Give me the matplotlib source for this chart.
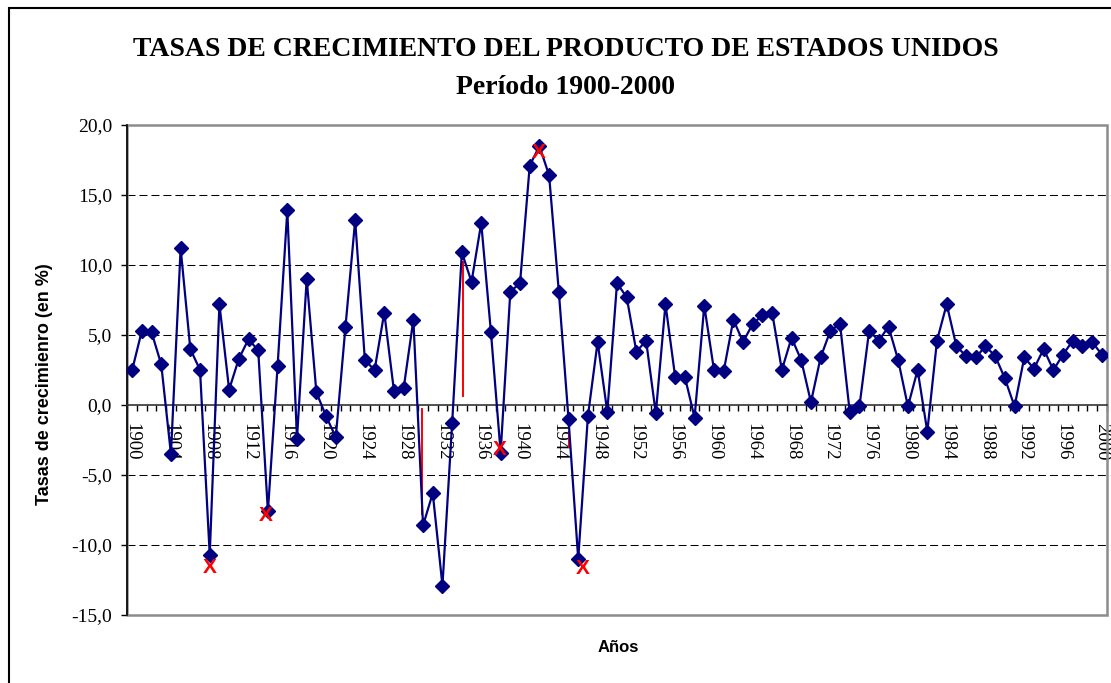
import matplotlib
matplotlib.use("Agg")
import matplotlib.pyplot as plt
from matplotlib.patches import Rectangle
import numpy as np

# Annual growth rates of US output, 1900-2000 (in %)
years = list(range(1900, 2001))
growth = [
    2.5, 5.3, 5.2, 2.9, -3.5, 11.2, 4.0, 2.5, -10.7, 7.2,    # 1900s
    1.1, 3.3, 4.7, 3.9, -7.6, 2.8, 13.9, -2.4, 9.0, 0.9,     # 1910s
    -0.8, -2.3, 5.6, 13.2, 3.2, 2.5, 6.6, 1.0, 1.2, 6.1,     # 1920s
    -8.6, -6.3, -12.9, -1.3, 10.9, 8.8, 13.0, 5.2, -3.4, 8.1,  # 1930s
    8.7, 17.1, 18.5, 16.4, 8.1, -1.0, -11.0, -0.8, 4.5, -0.5,  # 1940s
    8.7, 7.7, 3.8, 4.6, -0.6, 7.2, 2.0, 2.0, -0.9, 7.1,      # 1950s
    2.5, 2.4, 6.1, 4.5, 5.8, 6.4, 6.6, 2.5, 4.8, 3.2,        # 1960s
    0.2, 3.4, 5.3, 5.8, -0.5, -0.1, 5.3, 4.6, 5.6, 3.2,      # 1970s
    -0.1, 2.5, -1.9, 4.6, 7.2, 4.2, 3.5, 3.4, 4.2, 3.5,      # 1980s
    1.9, -0.1, 3.4, 2.6, 4.0, 2.5, 3.6, 4.6, 4.2, 4.5,       # 1990s
    3.6,                                                     # 2000
]

# hand-drawn red crosses
cross_years = [1907.96, 1913.77, 1937.86, 1941.96, 1946.46]
cross_vals = [-11.64, -7.86, -3.17, 18.05, -11.67]

# hand-drawn red vertical strokes (year, from, to)
stroke_years = [1929.92, 1934.09, 1945.08]
stroke_lo = [-7.8, 0.66, -2.98]
stroke_hi = [-0.3, 10.24, -1.95]

label_years = list(range(1900, 2001, 4))
y_ticks = [-15, -10, -5, 0, 5, 10, 15, 20]

W, H = 1111, 683
fig = plt.figure(figsize=(W / 100, H / 100), dpi=100)
fig.patch.set_facecolor("white")

# outer chart border (runs off the right and bottom of the picture)
fig.patches.append(Rectangle((8.5 / W, -0.1), 1.2, (H - 8.5) / H + 0.1,
                             transform=fig.transFigure, fill=False,
                             ec="black", lw=1.5))

ax = fig.add_axes([127.3 / W, (H - 615) / H, (1106.7 - 127.3) / W, (615 - 125) / H])
ax.set_xlim(1899.5, 2000.5)
ax.set_ylim(-15, 20)

# grid lines (dashed) except on the zero axis and the frame
for v in y_ticks:
    if v not in (0, -15, 20):
        ax.axhline(v, color="black", lw=0.75, ls=(0, (7.7, 3.8)), zorder=1)

# gray plot-area frame
ax.add_patch(Rectangle((0, 0), 1, 1, transform=ax.transAxes, fill=False,
                       ec="#8c8c8c", lw=1.8, zorder=2, clip_on=False))

# data series
ax.plot(years, growth, color="#000080", lw=1.6, marker="D", markersize=7.5,
        markerfacecolor="#000080", markeredgecolor="#000080", zorder=4)

for yr, lo, hi in zip(stroke_years, stroke_lo, stroke_hi):
    ax.plot([yr, yr], [lo, hi], color="red", lw=1.4, zorder=3)

for yr, v in zip(cross_years, cross_vals):
    ax.text(yr, v, "X", color="red", fontsize=15, fontweight="bold",
            family="Liberation Sans", ha="center", va="center", zorder=5)

# axes styling
for side in ("top", "right"):
    ax.spines[side].set_visible(False)
ax.spines["bottom"].set_position(("data", 0))
ax.spines["bottom"].set_color("#333333")
ax.spines["bottom"].set_linewidth(1.2)
ax.spines["left"].set_color("black")
ax.spines["left"].set_linewidth(1.2)
ax.spines["bottom"].set_zorder(3)

ax.set_yticks(y_ticks)
ax.set_yticklabels([f"{v:.1f}".replace(".", ",") for v in y_ticks],
                   family="Liberation Serif", fontsize=14)
ax.tick_params(axis="y", direction="out", length=4, width=1, pad=7)

ax.set_xticks(label_years)
ax.set_xticklabels([str(y) for y in label_years], rotation=270,
                   family="Liberation Serif", fontsize=13.5)
ax.set_xticks(np.arange(1899.5, 2001, 1.0), minor=True)
ax.tick_params(axis="x", which="major", length=0, pad=13)
ax.tick_params(axis="x", which="minor", direction="out", length=4, width=1)

# titles and axis labels
fig.text(566 / W, 1 - 50 / H, "TASAS DE CRECIMIENTO DEL PRODUCTO DE ESTADOS UNIDOS",
         ha="center", va="center", family="Liberation Serif",
         fontweight="bold", fontsize=20)
fig.text(566 / W, 1 - 87 / H, "Período 1900-2000", ha="center", va="center",
         family="Liberation Serif", fontweight="bold", fontsize=20)
fig.text(45 / W, 1 - 384 / H, "Tasas de crecimienro (en %)", rotation=90,
         ha="center", va="center", family="Liberation Sans",
         fontweight="bold", fontsize=13)
fig.text(618 / W, 1 - 648 / H, "Años", ha="center", va="center",
         family="Liberation Sans", fontweight="bold", fontsize=12)

fig.savefig("out.png", dpi=100)
